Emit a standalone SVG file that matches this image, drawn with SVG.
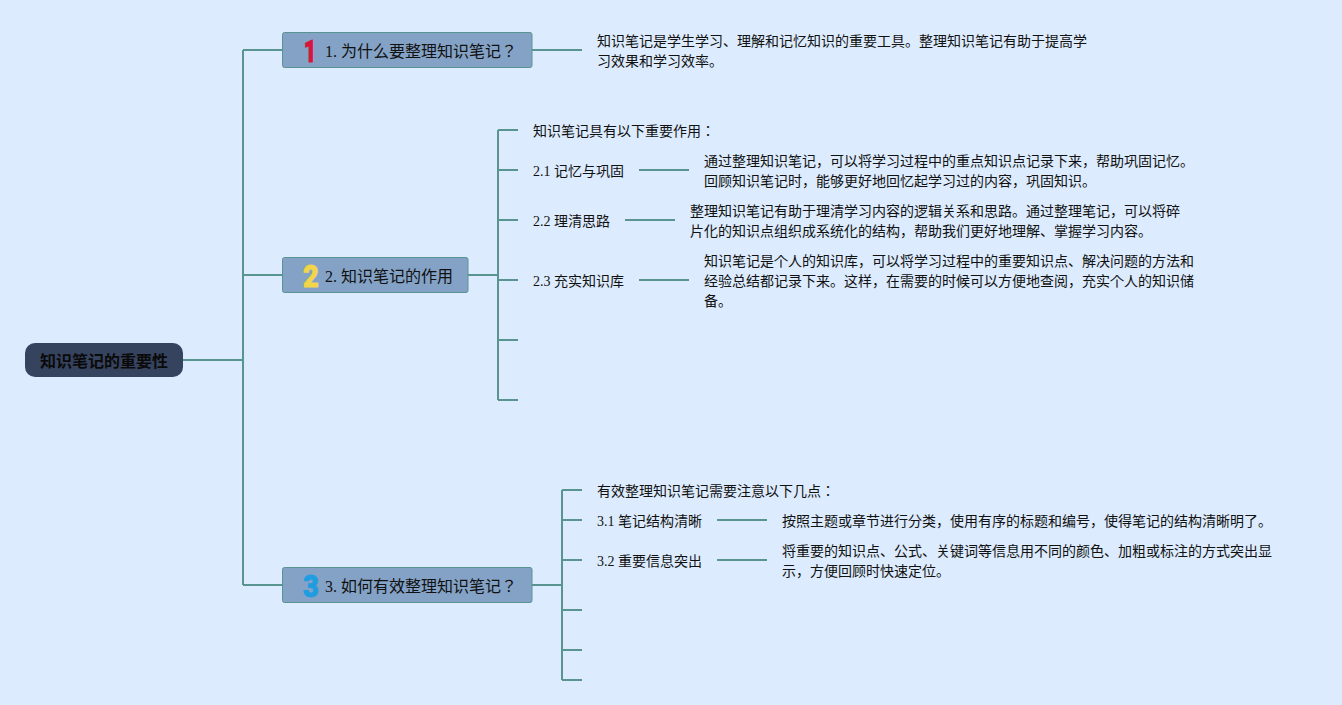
<svg xmlns="http://www.w3.org/2000/svg" width="1342" height="705" viewBox="0 0 1342 705">
<style>
text{font-family:"Liberation Serif","Noto Sans CJK JP",serif;font-size:14px;fill:#111}
.conn{fill:none;stroke:#5a9490;stroke-width:2}
.box{fill:#83a2c6;stroke:#5a9490;stroke-width:1}
.root{fill:#36435f}
.rt{font-size:16px;font-weight:bold;fill:#0a0a0a}
.bt{font-size:16px}
.ico{font-family:Roboto,sans-serif;font-size:32px;font-weight:900;stroke-width:1;stroke-linejoin:round;text-anchor:middle}
</style>
<rect width="1342" height="705" fill="#dcebfd"/>
<g id="connectors" class="conn">
<path d="M183 360H243M243 50V585M243 50H283M243 275H283M243 585H283"/>
<path d="M532 50H582"/>
<path d="M468 275H498M498 130V400M498 130H518M498 170H518M498 220H518M498 280H518M498 340H518M498 400H518"/>
<path d="M639 170H689M625 220H675M639 280H689"/>
<path d="M532 585H562M562 490V680M562 490H582M562 520H582M562 560H582M562 610H582M562 650H582M562 680H582"/>
<path d="M717 520H767M717 560H767"/>
</g>
<g id="root"><rect class="root" x="25" y="343" width="158" height="34" rx="10"/><text class="rt" x="40" y="367">知识笔记的重要性</text></g>
<g id="n1"><rect class="box" x="282.500" y="32.500" width="249.500" height="35" rx="2"/><text class="ico" transform="translate(310 62) scale(.68 1)" style="fill:#d9143c;stroke:#d9143c">1</text><text class="bt" x="325" y="57">1. 为什么要整理知识笔记？</text></g>
<g id="n2"><rect class="box" x="282.500" y="257.500" width="185.500" height="35" rx="2"/><text class="ico" transform="translate(311 287) scale(.85 1)" style="fill:#f2d54a;stroke:#f2d54a">2</text><text class="bt" x="325" y="282">2. 知识笔记的作用</text></g>
<g id="n3"><rect class="box" x="282.500" y="567.500" width="249.500" height="35" rx="2"/><text class="ico" transform="translate(311 597) scale(.85 1)" style="fill:#1f9de0;stroke:#1f9de0">3</text><text class="bt" x="325" y="592">3. 如何有效整理知识笔记？</text></g>
<g id="n1-1"><text x="597" y="46">知识笔记是学生学习、理解和记忆知识的重要工具。整理知识笔记有助于提高学</text><text x="597" y="66">习效果和学习效率。</text></g>
<g id="n2-0"><text x="533" y="136">知识笔记具有以下重要作用：</text></g>
<g id="n2-1"><text x="533" y="176">2.1 记忆与巩固</text></g>
<g id="n2-1-1"><text x="704" y="166">通过整理知识笔记，可以将学习过程中的重点知识点记录下来，帮助巩固记忆。</text><text x="704" y="186">回顾知识笔记时，能够更好地回忆起学习过的内容，巩固知识。</text></g>
<g id="n2-2"><text x="533" y="226">2.2 理清思路</text></g>
<g id="n2-2-1"><text x="690" y="216">整理知识笔记有助于理清学习内容的逻辑关系和思路。通过整理笔记，可以将碎</text><text x="690" y="236">片化的知识点组织成系统化的结构，帮助我们更好地理解、掌握学习内容。</text></g>
<g id="n2-3"><text x="533" y="286">2.3 充实知识库</text></g>
<g id="n2-3-1"><text x="704" y="266">知识笔记是个人的知识库，可以将学习过程中的重要知识点、解决问题的方法和</text><text x="704" y="286">经验总结都记录下来。这样，在需要的时候可以方便地查阅，充实个人的知识储</text><text x="704" y="306">备。</text></g>
<g id="n3-0"><text x="597" y="496">有效整理知识笔记需要注意以下几点：</text></g>
<g id="n3-1"><text x="597" y="526">3.1 笔记结构清晰</text></g>
<g id="n3-1-1"><text x="782" y="526">按照主题或章节进行分类，使用有序的标题和编号，使得笔记的结构清晰明了。</text></g>
<g id="n3-2"><text x="597" y="566">3.2 重要信息突出</text></g>
<g id="n3-2-1"><text x="782" y="556">将重要的知识点、公式、关键词等信息用不同的颜色、加粗或标注的方式突出显</text><text x="782" y="576">示，方便回顾时快速定位。</text></g>
</svg>
